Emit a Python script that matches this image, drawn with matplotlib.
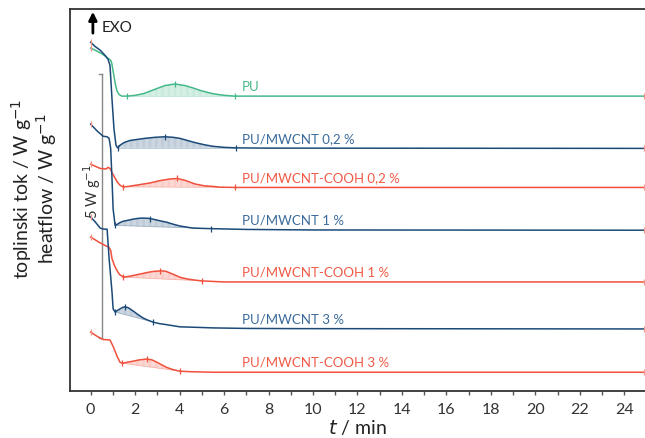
import numpy as np
import matplotlib
matplotlib.use("Agg")
import matplotlib.pyplot as plt

plt.rcParams['font.family'] = ['Lato', 'DejaVu Sans']
plt.rcParams['hatch.linewidth'] = 0.5

# curve names, top to bottom
names = ["PU", "PU/MWCNT 0,2 %", "PU/MWCNT-COOH 0,2 %", "PU/MWCNT 1 %",
         "PU/MWCNT-COOH 1 %", "PU/MWCNT 3 %", "PU/MWCNT-COOH 3 %"]

# time (min) and heat flow (W/g, relative to the curve's own baseline)
t_pu = [0, 0.2, 0.43, 0.65, 0.8, 0.9, 0.95, 1.02, 1.1, 1.18, 1.28, 1.4, 1.64, 2.0, 2.4,
        2.89, 3.34, 3.79, 4.24, 4.6, 4.91, 5.3, 5.58, 6.0, 6.47, 8.0, 24.9]
q_pu = [0.91, 0.87, 0.82, 0.76, 0.71, 0.68, 0.62, 0.45, 0.25, 0.10, 0.03, 0.0, 0.0, 0.015,
        0.05, 0.13, 0.20, 0.23, 0.20, 0.155, 0.11, 0.065, 0.04, 0.015, 0.0, 0.0, 0.0]

t_c02 = [0, 0.2, 0.43, 0.65, 0.78, 0.87, 0.96, 1.05, 1.14, 1.21, 1.32, 1.5, 1.77, 2.1, 2.44,
         2.9, 3.34, 3.7, 4.01, 4.35, 4.69, 5.1, 5.49, 6.0, 6.52, 8.0, 24.9]
q_c02 = [2.01, 1.93, 1.86, 1.76, 1.69, 1.57, 0.93, 0.36, 0.06, 0.01, 0.06, 0.11, 0.15, 0.17,
         0.19, 0.21, 0.22, 0.21, 0.19, 0.15, 0.11, 0.07, 0.04, 0.02, 0.01, 0.005, 0.0]

t_h02 = [0, 0.43, 0.7, 0.78, 0.87, 0.96, 1.08, 1.19, 1.3, 1.41, 1.46, 1.7, 2.0, 2.3, 2.67,
         3.12, 3.56, 3.9, 4.28, 4.69, 5.13, 5.49, 5.8, 6.48, 8.0, 24.9]
q_h02 = [0.44, 0.36, 0.35, 0.38, 0.36, 0.28, 0.19, 0.11, 0.05, 0.02, 0.01, 0.02, 0.04, 0.06,
         0.085, 0.13, 0.16, 0.17, 0.13, 0.066, 0.03, 0.02, 0.006, 0.0, 0.0, 0.0]

t_c1 = [0, 0.29, 0.56, 0.74, 0.83, 0.9, 0.96, 1.01, 1.1, 1.19, 1.3, 1.46, 1.7, 1.91, 2.15,
        2.35, 2.6, 2.8, 3.1, 3.43, 3.7, 4.01, 4.3, 4.6, 5.0, 5.4, 7.0, 10.0, 24.9]
q_c1 = [2.01, 1.88, 1.78, 1.77, 1.74, 1.55, 0.97, 0.40, 0.09, 0.11, 0.14, 0.17, 0.19, 0.21,
        0.225, 0.23, 0.225, 0.21, 0.18, 0.15, 0.115, 0.08, 0.06, 0.04, 0.035, 0.03, 0.015,
        0.005, 0.0]

t_h1 = [0, 0.43, 0.7, 0.8, 0.9, 0.96, 1.08, 1.19, 1.3, 1.41, 1.46, 1.77, 2.0, 2.22, 2.45,
        2.67, 2.95, 3.21, 3.4, 3.57, 3.8, 4.01, 4.3, 4.6, 5.0, 6.0, 24.9]
q_h1 = [0.85, 0.74, 0.68, 0.67, 0.60, 0.44, 0.30, 0.21, 0.14, 0.11, 0.09, 0.11, 0.13, 0.15,
        0.17, 0.19, 0.205, 0.21, 0.20, 0.17, 0.13, 0.09, 0.06, 0.04, 0.02, 0.0, 0.0]

t_c3 = [0, 0.2, 0.43, 0.6, 0.74, 0.83, 0.96, 1.01, 1.1, 1.2, 1.32, 1.45, 1.55, 1.7, 1.91,
        2.1, 2.35, 2.55, 2.8, 3.1, 3.43, 4.01, 4.8, 5.49, 7.0, 9.4, 24.9]
q_c3 = [2.12, 2.03, 1.91, 1.89, 1.89, 1.33, 0.70, 0.38, 0.32, 0.35, 0.38, 0.41, 0.42, 0.40,
        0.34, 0.28, 0.21, 0.17, 0.13, 0.10, 0.08, 0.04, 0.03, 0.02, 0.01, 0.006, 0.0]

t_h3 = [0, 0.29, 0.56, 0.75, 0.87, 1.01, 1.19, 1.32, 1.41, 1.6, 1.91, 2.2, 2.53, 2.75, 2.98,
        3.2, 3.43, 3.7, 4.01, 4.5, 5.5, 24.9]
q_h3 = [0.76, 0.68, 0.62, 0.615, 0.61, 0.49, 0.30, 0.19, 0.17, 0.185, 0.21, 0.235, 0.25,
        0.235, 0.19, 0.14, 0.09, 0.05, 0.02, 0.01, 0.0, 0.0]

times = [t_pu, t_c02, t_h02, t_c1, t_h1, t_c3, t_h3]
flows = [q_pu, q_c02, q_h02, q_c1, q_h1, q_c3, q_h3]

# integration limits and peak of the crystallisation bump (min)
peak_start = [1.64, 1.21, 1.46, 1.10, 1.46, 1.10, 1.41]
peak_top = [3.79, 3.34, 3.90, 2.67, 3.12, 1.55, 2.53]
peak_end = [6.47, 6.52, 6.48, 5.40, 5.00, 2.80, 4.01]

# vertical shift of each curve (W/g)
offsets = [5.58, 4.59, 3.85, 3.04, 2.06, 1.17, 0.35]

green = '#45b98a'
blue = '#1b4a78'
red = '#f0503c'
line_colors = [green, blue, red, blue, red, blue, red]
text_colors = ['#45b98a', '#3a6a9b', '#f05a46', '#3a6a9b', '#f05a46', '#3a6a9b', '#f05a46']

fig = plt.figure(figsize=(6.45, 4.39), dpi=100)
ax = fig.add_axes([0.1085, 0.1077, 0.8915, 0.8695])

for i in range(len(names)):
    t = np.array(times[i])
    q = np.array(flows[i]) + offsets[i]
    c = line_colors[i]
    ax.plot(t, q, color=c, lw=1.1, zorder=3)

    # hatched area between curve and straight baseline
    ts, te = peak_start[i], peak_end[i]
    qs, qe = np.interp(ts, t, q), np.interp(te, t, q)
    m = (t >= ts) & (t <= te)
    tt = np.concatenate([[ts], t[m], [te]])
    qq = np.concatenate([[qs], q[m], [qe]])
    base = np.interp(tt, [ts, te], [qs, qe])
    ax.fill_between(tt, base, qq, facecolor=c, alpha=0.05, lw=0, zorder=2)
    ax.fill_between(tt, base, qq, facecolor='none', edgecolor=c, hatch='|' * 14,
                    lw=0, alpha=0.35, zorder=2)
    ax.plot([ts, te], [qs, qe], color=c, lw=0.5, alpha=0.4, zorder=2)

    # markers
    for tm in (ts, peak_top[i], te):
        ax.plot(tm, np.interp(tm, t, q), marker='|', ms=5, mew=0.9, color=c, zorder=4)
    ax.plot([t[0], t[-1]], [q[0], q[-1]], ls='none', marker='|', ms=5, mew=0.9,
            color='#f4968a', zorder=4)

    ax.text(6.8, offsets[i] + 0.2, names[i], color=text_colors[i], fontsize=9.5,
            va='center', ha='left')

# scale bar 5 W/g
ax.plot([0.52, 0.52], [1.0, 6.0], color='#888888', lw=1.0, zorder=1)
ax.plot([0.38, 0.52], [6.0, 6.0], color='#888888', lw=1.0, zorder=1)
ax.plot([0.38, 0.52], [1.0, 1.0], color='#888888', lw=1.0, zorder=1)
ax.text(0.08, 3.8, r'5 W g$^{-1}$', rotation=90, ha='center', va='center',
        fontsize=10.5, color='#333333')

# EXO arrow
ax.annotate('', xy=(0.1, 7.23), xytext=(0.1, 6.72),
            arrowprops=dict(arrowstyle='-|>', color='black', lw=2,
                            mutation_scale=12))
ax.text(0.5, 6.88, 'EXO', fontsize=11, va='center', ha='left', color='#222222')

ax.set_xlim(-0.93, 24.93)
ax.set_ylim(0, 7.23)
ax.set_xticks(np.arange(0, 25, 2))
ax.set_xticks(np.arange(0, 25, 1), minor=True)
ax.set_yticks([])
ax.tick_params(axis='x', which='both', direction='out', length=3, width=1,
               color='#555555', labelsize=11.5, labelcolor='#333333', pad=5)
for s in ('left', 'bottom', 'top'):
    ax.spines[s].set_color('#333333')
    ax.spines[s].set_linewidth(1.3)
ax.spines['right'].set_visible(False)

ax.set_xlabel(r'$t$ / min', fontsize=14, color='#222222', labelpad=1)

fig.text(0.033, 0.57, r'toplinski tok / W g$^{-1}$', rotation=90, ha='center',
         va='center', fontsize=14, color='#222222')
fig.text(0.072, 0.57, r'heatflow / W g$^{-1}$', rotation=90, ha='center',
         va='center', fontsize=14, color='#222222')

fig.savefig('out.png', dpi=100)
